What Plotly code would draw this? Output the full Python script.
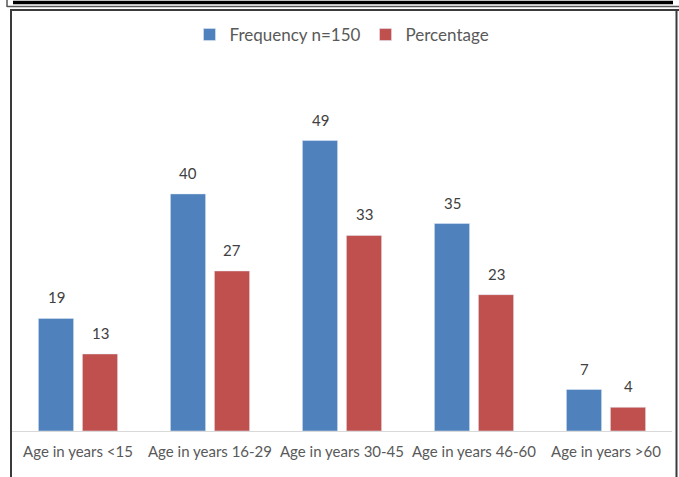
import plotly.graph_objects as go

# Age-group distribution of respondents (n = 150)
categories = ["Age in years <15", "Age in years 16-29", "Age in years 30-45",
              "Age in years 46-60", "Age in years >60"]
frequency = [19, 40, 49, 35, 7]
percentage = [13, 27, 33, 23, 4]
series_names = ["Frequency n=150", "Percentage"]

W, H = 679, 477
ML, MR, MT, MB = 12, 7, 105, 46
PW, PH = W - ML - MR, H - MT - MB

BLUE = "#4F81BD"
RED = "#C0504D"
FONT = "Lato, Liberation Sans, Arial, sans-serif"


def px_x(p):
    return (p - ML) / PW


def px_y(p):
    return (H - MB - p) / PH


fig = go.Figure()
fig.add_bar(x=categories, y=frequency, name=series_names[0], marker_color=BLUE)
fig.add_bar(x=categories, y=percentage, name=series_names[1], marker_color=RED)

# value labels above each bar
annotations = []
for cat, f, p in zip(categories, frequency, percentage):
    for val, shift in ((f, -22), (p, 22)):
        annotations.append(dict(
            x=cat, y=val, xref="x", yref="y", text=str(val), showarrow=False,
            xshift=shift, yshift=10, yanchor="bottom",
            font=dict(family=FONT, size=15, color="#404040")))

# frame lines around the chart
line_dark = dict(color="#3a3a3a", width=2)
shapes = [
    # outer strip at the top
    dict(type="line", xref="paper", yref="paper", x0=px_x(7), x1=px_x(7),
         y0=px_y(-1), y1=px_y(7), line=dict(color="#555555", width=1.5)),
    dict(type="line", xref="paper", yref="paper", x0=px_x(13), x1=px_x(673),
         y0=px_y(2.5), y1=px_y(2.5), line=dict(color="#000000", width=3.5)),
    dict(type="line", xref="paper", yref="paper", x0=px_x(7), x1=px_x(680),
         y0=px_y(6.5), y1=px_y(6.5), line=dict(color="#555555", width=1.5)),
    # inner chart border
    dict(type="line", xref="paper", yref="paper", x0=px_x(11), x1=px_x(680),
         y0=px_y(10), y1=px_y(10), line=line_dark),
    dict(type="line", xref="paper", yref="paper", x0=px_x(11), x1=px_x(11),
         y0=px_y(9), y1=px_y(480), line=line_dark),
    dict(type="line", xref="paper", yref="paper", x0=px_x(676.5), x1=px_x(676.5),
         y0=px_y(9), y1=px_y(480), line=line_dark),
]

fig.update_layout(
    width=W, height=H,
    margin=dict(l=ML, r=MR, t=MT, b=MB, pad=0),
    paper_bgcolor="white", plot_bgcolor="white",
    barmode="group", bargap=1 / 3, bargroupgap=0.2,
    showlegend=True,
    legend=dict(orientation="h", x=px_x(342), y=px_y(35), xanchor="center",
                yanchor="middle", font=dict(family=FONT, size=17, color="#595959"),
                itemwidth=30, bgcolor="rgba(0,0,0,0)"),
    xaxis=dict(showline=True, linecolor="#D9D9D9", linewidth=1, ticks="",
               tickfont=dict(family=FONT, size=15, color="#595959"),
               ticklabelstandoff=7, fixedrange=True),
    yaxis=dict(range=[0, 55], visible=False, showgrid=False, zeroline=False,
               fixedrange=True),
    annotations=annotations,
    shapes=shapes,
)

fig.write_html("out.html")
